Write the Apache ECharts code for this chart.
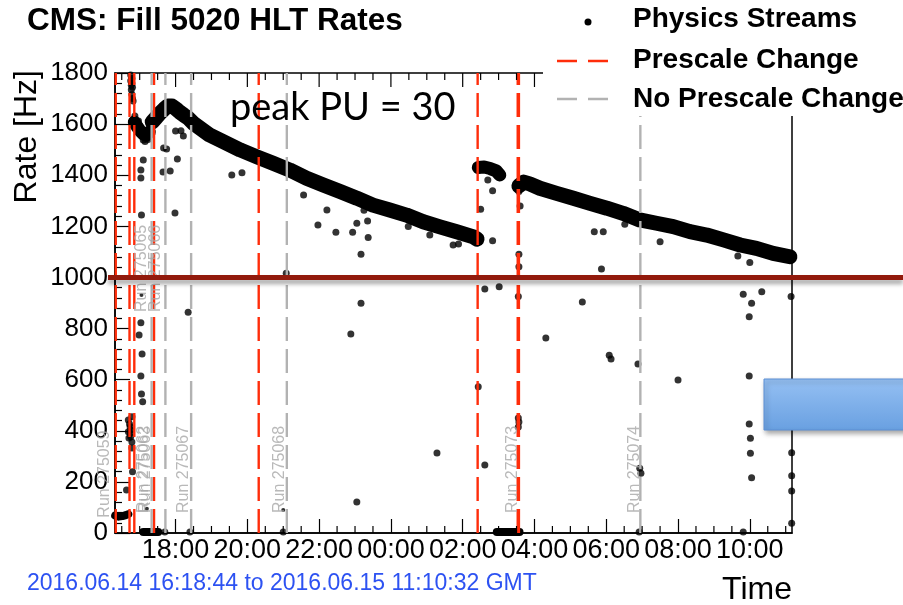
<!DOCTYPE html>
<html>
<head>
<meta charset="utf-8">
<script src="https://cdn.jsdelivr.net/npm/echarts@6/dist/echarts.min.js"></script>
<style>
  html, body { margin: 0; padding: 0; background: #fff; }
  #chart { width: 903px; height: 605px; }
</style>
</head>
<body>
<div id="chart"></div>
<script>
// Fill 5020 time window (GMT)
const fillStart = '16:18:44';
const fillEnd = '11:10:32';

// Axis ticks
const timeTicks = ['18:00', '20:00', '22:00', '00:00', '02:00', '04:00', '06:00', '08:00', '10:00'];
const rateTicks = [0, 200, 400, 600, 800, 1000, 1200, 1400, 1600, 1800];

// Dense physics-stream bands [time, rate Hz]
const bandRamp = [['16:19', 68], ['16:25', 64], ['16:31', 66], ['16:37', 70], ['16:41', 74]];
const bandRun1 = [['16:51', 1608], ['16:56', 1589], ['17:01', 1573], ['17:06', 1561], ['17:11', 1557], ['17:16', 1569]];
const bandRun2 = [
  ['17:21', 1608], ['17:27', 1624], ['17:34', 1643], ['17:41', 1659], ['17:47', 1671], ['17:54', 1671],
  ['18:01', 1659], ['18:07', 1647], ['18:14', 1635], ['18:21', 1624], ['18:30', 1603], ['18:57', 1557],
  ['19:20', 1531], ['19:48', 1499], ['20:16', 1472], ['20:43', 1447], ['21:11', 1420], ['21:39', 1388],
  ['22:07', 1362], ['22:35', 1336], ['23:03', 1310], ['23:30', 1283], ['23:58', 1264], ['00:26', 1244],
  ['00:54', 1218], ['01:22', 1198], ['01:50', 1179], ['02:18', 1159], ['02:24', 1150]
];
const bandRun3 = [['02:26', 1430], ['02:36', 1432], ['02:46', 1426], ['02:56', 1417], ['03:02', 1401]];
const bandRun4 = [
  ['03:34', 1358], ['03:42', 1373], ['03:52', 1366], ['04:09', 1349], ['04:37', 1329], ['05:05', 1310],
  ['05:33', 1290], ['06:01', 1271], ['06:28', 1251], ['06:56', 1225], ['07:24', 1212], ['07:52', 1199],
  ['08:20', 1179], ['08:48', 1166], ['09:16', 1147], ['09:44', 1127], ['10:11', 1114], ['10:39', 1094],
  ['11:07', 1081]
];
const bandIdle1 = [['17:06', 4], ['17:31', 4]];
const bandIdle2 = [['02:57', 4], ['03:35', 4]];

// Individual lumisection points [time, rate Hz]
const rampPoints = [
  ['16:38', 168], ['16:41', 442], ['16:41', 396], ['16:42', 372], ['16:43', 427], ['16:44', 416],
  ['16:44', 391], ['16:45', 403], ['16:45', 377], ['16:47', 455], ['16:47', 333], ['16:47', 356], ['16:48', 240]
];
const spikePoints = [
  ['16:45', 1792], ['16:45', 1770], ['16:46', 1752], ['16:46', 1734], ['16:47', 1778],
  ['16:47', 1716], ['16:48', 1700], ['16:48', 1744], ['16:49', 1690], ['16:47', 1760]
];
const strayPoints = [
  ['16:52', 1632], ['16:58', 1612], ['17:06', 1538], ['17:09', 1532], ['17:14', 1540],
  ['17:06', 1460], ['17:02', 1420], ['17:02', 1389], ['17:03', 1244],
  ['17:40', 1507], ['17:45', 1503], ['18:03', 1463], ['17:39', 1413], ['17:51', 1417], ['17:59', 1252],
  ['18:09', 1574], ['18:13', 1553], ['18:00', 1573],
  ['17:02', 823], ['16:59', 775], ['17:04', 700], ['17:02', 614], ['17:03', 544], ['17:05', 514], ['18:21', 864],
  ['17:12', 4], ['17:19', 4], ['17:26', 4], ['17:42', 4], ['18:24', 4], ['21:00', 4], ['06:55', 4], ['09:49', 4],
  ['19:34', 1401], ['19:51', 1410], ['21:34', 1323], ['22:13', 1264], ['21:58', 1205], ['22:28', 1177],
  ['22:56', 1177], ['23:03', 1212], ['23:21', 1221], ['23:10', 1091], ['23:22', 1156], ['23:15', 1263],
  ['01:05', 1166], ['00:29', 1199], ['01:44', 1127], ['01:53', 1131], ['21:05', 1016], ['23:10', 899],
  ['22:53', 779], ['23:03', 121], ['01:17', 313],
  ['02:30', 1267], ['02:50', 1339], ['02:50', 1144], ['02:42', 1381], ['02:37', 955], ['03:01', 964],
  ['02:26', 572], ['02:37', 266],
  ['03:33', 450], ['03:33', 415], ['03:34', 434], ['03:34', 1336], ['03:36', 1280], ['03:34', 1091],
  ['03:34', 1042], ['03:33', 925],
  ['05:40', 1179], ['05:55', 1179], ['05:52', 1033], ['06:31', 1208], ['07:30', 1140], ['09:40', 1084],
  ['10:00', 1058], ['05:20', 904], ['09:49', 934], ['10:03', 899], ['10:20', 944], ['09:59', 846],
  ['11:09', 925], ['08:00', 599], ['09:59', 614],
  ['09:59', 427], ['10:01', 371], ['10:01', 312], ['10:03', 216], ['11:10', 314], ['11:10', 224],
  ['11:10', 164], ['11:10', 38], ['06:56', 253], ['06:58', 234], ['04:19', 763], ['06:05', 696],
  ['06:08', 681], ['06:53', 661]
];
const faintPoints = [['17:03', 931], ['17:12', 95], ['21:00', 90]];

// Run boundaries and prescale changes
const prescaleChanges = ['16:20', '16:43', '16:51', '17:24', '20:19', '02:25', '03:32', '03:34'];
const noPrescaleChanges = ['17:20', '17:43', '18:26', '21:06', '06:57'];
const runLabels = [
  ['16:15', 60, 'Run 275059'],
  ['17:20', 78, 'Run 275062'],
  ['17:23', 78, 'Run 275063'],
  ['17:16', 865, 'Run 275065'],
  ['17:40', 865, 'Run 275066'],
  ['18:27', 78, 'Run 275067'],
  ['21:08', 78, 'Run 275068'],
  ['03:36', 78, 'Run 275073'],
  ['07:00', 78, 'Run 275074']
];

// Hours since 16:00 on 2016-06-14; times before 16:00 belong to the next day
function toH(s) {
  const p = s.split(':').map(Number);
  let h = p[0] + p[1] / 60 + (p[2] || 0) / 3600 - 16;
  if (h < 0) h += 24;
  return h;
}
const pts = arr => arr.map(p => [toH(p[0]), p[1]]);

const X0 = toH(fillStart);
const X1 = toH(fillEnd);
const Y0 = rateTicks[0];
const Y1 = rateTicks[rateTicks.length - 1];
const majorTimeTicks = timeTicks.map(toH);
const minorTimeTicks = [];
for (let h = Math.ceil(X0 * 2) / 2; h <= X1; h += 0.5) {
  if (!majorTimeTicks.some(m => Math.abs(m - h) < 1e-6)) minorTimeTicks.push(h);
}
const minorRateTicks = [];
for (let r = Y0; r <= Y1; r += 40) if (r % 200 !== 0) minorRateTicks.push(r);

const FONT = 'Liberation Sans';
const RED = '#ff2d0a';
const GREY = '#b2b2b2';

function bandSeries(arr, width) {
  return {
    type: 'line', data: pts(arr), symbol: 'none', clip: false, silent: true, z: 2,
    lineStyle: { color: '#000', width: width, cap: 'round', join: 'round' }
  };
}

function pointSeries(arr, size) {
  return {
    type: 'scatter', data: pts(arr), symbol: 'circle', symbolSize: size, clip: false, silent: true, z: 2,
    itemStyle: { color: '#000' }
  };
}

function markerSeries(t, color) {
  const h = toH(t);
  return {
    type: 'line', data: [[h, Y0], [h, Y1]], symbol: 'none', silent: true, z: 4,
    lineStyle: { color: color, width: 2.4, type: [24, 8] }
  };
}

const chart = echarts.init(document.getElementById('chart'), null, { renderer: 'canvas' });

const option = {
  animation: false,
  backgroundColor: '#fff',
  title: {
    text: 'CMS: Fill 5020 HLT Rates', left: 27, top: 5, padding: 0,
    textStyle: { fontFamily: FONT, fontSize: 31.5, fontWeight: 'bold', color: '#000' }
  },
  // plot frame
  grid: { left: 115, right: 111, top: 73, bottom: 72, show: true, borderColor: '#000', borderWidth: 1.5, backgroundColor: 'transparent' },
  xAxis: {
    type: 'value', min: X0, max: X1,
    axisLine: { show: true, onZero: false, lineStyle: { color: '#000', width: 1.5 } },
    axisTick: { show: true, inside: true, length: 14, customValues: majorTimeTicks, lineStyle: { color: '#000', width: 1.2 } },
    axisLabel: {
      show: true, customValues: majorTimeTicks, margin: 4, color: '#000', fontFamily: FONT, fontSize: 27,
      formatter: v => timeTicks[majorTimeTicks.findIndex(m => Math.abs(m - v) < 1e-6)] || ''
    },
    splitLine: { show: false }
  },
  yAxis: {
    type: 'value', min: Y0, max: Y1, interval: 200,
    axisLine: { show: true, onZero: false, lineStyle: { color: '#000', width: 1.5 } },
    axisTick: { show: true, inside: true, length: 15, lineStyle: { color: '#000', width: 1.2 } },
    minorTick: { show: true, splitNumber: 5, length: 7, lineStyle: { color: '#000', width: 1.2 } },
    axisLabel: { margin: 7, color: '#000', fontFamily: FONT, fontSize: 26, formatter: v => String(v) },
    splitLine: { show: false }
  },
  series: [
    bandSeries(bandRamp, 8),
    bandSeries(bandRun1, 13),
    bandSeries(bandRun2, 15),
    bandSeries(bandRun3, 13),
    bandSeries(bandRun4, 15),
    bandSeries(bandIdle1, 8),
    bandSeries(bandIdle2, 8),
    pointSeries(rampPoints, 7),
    pointSeries(spikePoints, 7),
    pointSeries(strayPoints, 7),
    pointSeries(faintPoints, 4),
    ...prescaleChanges.map(t => markerSeries(t, RED)),
    ...noPrescaleChanges.map(t => markerSeries(t, GREY)),
    {
      type: 'scatter', silent: true, clip: false, z: 5, symbolSize: 1,
      data: runLabels.map(r => [toH(r[0]), r[1], r[2]]),
      itemStyle: { color: 'transparent' },
      label: {
        show: true, position: 'inside', rotate: 90, align: 'left', verticalAlign: 'bottom',
        formatter: p => p.value[2], color: '#a8a8a8', fontFamily: FONT, fontSize: 16
      }
    }
  ]
};
chart.setOption(option);

// Minor time ticks and the mirrored top ticks, placed through the axis scales
const px = v => chart.convertToPixel({ xAxisIndex: 0 }, v);
const py = v => chart.convertToPixel({ yAxisIndex: 0 }, v);
const frameB = py(Y0), frameT = py(Y1);
const ticks = [];
function tickLine(x1, y1, x2, y2) {
  ticks.push({ type: 'line', z: 10, silent: true, shape: { x1: x1, y1: y1, x2: x2, y2: y2 }, style: { stroke: '#000', lineWidth: 1.2 } });
}
minorTimeTicks.forEach(v => { const x = px(v); tickLine(x, frameB, x, frameB - 7); tickLine(x, frameT, x, frameT + 7); });
majorTimeTicks.forEach(v => { const x = px(v); tickLine(x, frameT, x, frameT + 14); });

// Overlaid annotations and legend
const y1000 = py(1000);
chart.setOption({
  graphic: ticks.concat([
    { type: 'text', z: 50, x: 27, y: 70, rotation: Math.PI / 2,
      style: { text: 'Rate [Hz]', font: '32px "Liberation Sans"', fill: '#000', align: 'right', verticalAlign: 'middle' } },
    { type: 'text', z: 50, x: 792, y: 590,
      style: { text: 'Time', font: '32px "Liberation Sans"', fill: '#000', align: 'right', verticalAlign: 'middle' } },
    { type: 'text', z: 50, x: 27, y: 584,
      style: { text: '2016.06.14 16:18:44 to 2016.06.15 11:10:32 GMT', font: '23px "Liberation Sans"', fill: '#2d52f2', align: 'left', verticalAlign: 'middle' } },
    { type: 'text', z: 50, x: 230, y: 108,
      style: { text: 'peak PU = 30', font: '38px Lato', fill: '#000', align: 'left', verticalAlign: 'middle' } },
    // legend box
    { type: 'rect', z: 100, shape: { x: 543, y: 0, width: 360, height: 116 }, style: { fill: '#fff' } },
    { type: 'circle', z: 101, shape: { cx: 588, cy: 22, r: 3.5 }, style: { fill: '#000' } },
    { type: 'line', z: 101, shape: { x1: 557, y1: 61, x2: 612, y2: 61 }, style: { stroke: RED, lineWidth: 2.4, lineDash: [20, 11] } },
    { type: 'line', z: 101, shape: { x1: 557, y1: 99, x2: 612, y2: 99 }, style: { stroke: GREY, lineWidth: 2.4, lineDash: [20, 11] } },
    { type: 'text', z: 101, x: 633, y: 19, style: { text: 'Physics Streams', font: 'bold 28px "Liberation Sans"', fill: '#000', verticalAlign: 'middle' } },
    { type: 'text', z: 101, x: 633, y: 60, style: { text: 'Prescale Change', font: 'bold 28px "Liberation Sans"', fill: '#000', verticalAlign: 'middle' } },
    { type: 'text', z: 101, x: 633, y: 99, style: { text: 'No Prescale Change', font: 'bold 28px "Liberation Sans"', fill: '#000', verticalAlign: 'middle' } },
    // 1000 Hz threshold
    { type: 'line', z: 110, shape: { x1: 108, y1: y1000, x2: 903, y2: y1000 },
      style: { stroke: '#921a0c', lineWidth: 5, shadowBlur: 4, shadowOffsetY: 4, shadowColor: 'rgba(0,0,0,0.35)' } },
    // callout box
    { type: 'rect', z: 110, shape: { x: 764, y: 379, width: 145, height: 51 },
      style: {
        fill: new echarts.graphic.LinearGradient(0, 0, 0, 1, [{ offset: 0, color: '#95c0f3' }, { offset: 1, color: '#69a0e1' }]),
        stroke: '#5c8fd4', lineWidth: 1, shadowBlur: 5, shadowOffsetX: 2, shadowOffsetY: 3, shadowColor: 'rgba(0,0,0,0.35)'
      } }
  ])
});
</script>
</body>
</html>
